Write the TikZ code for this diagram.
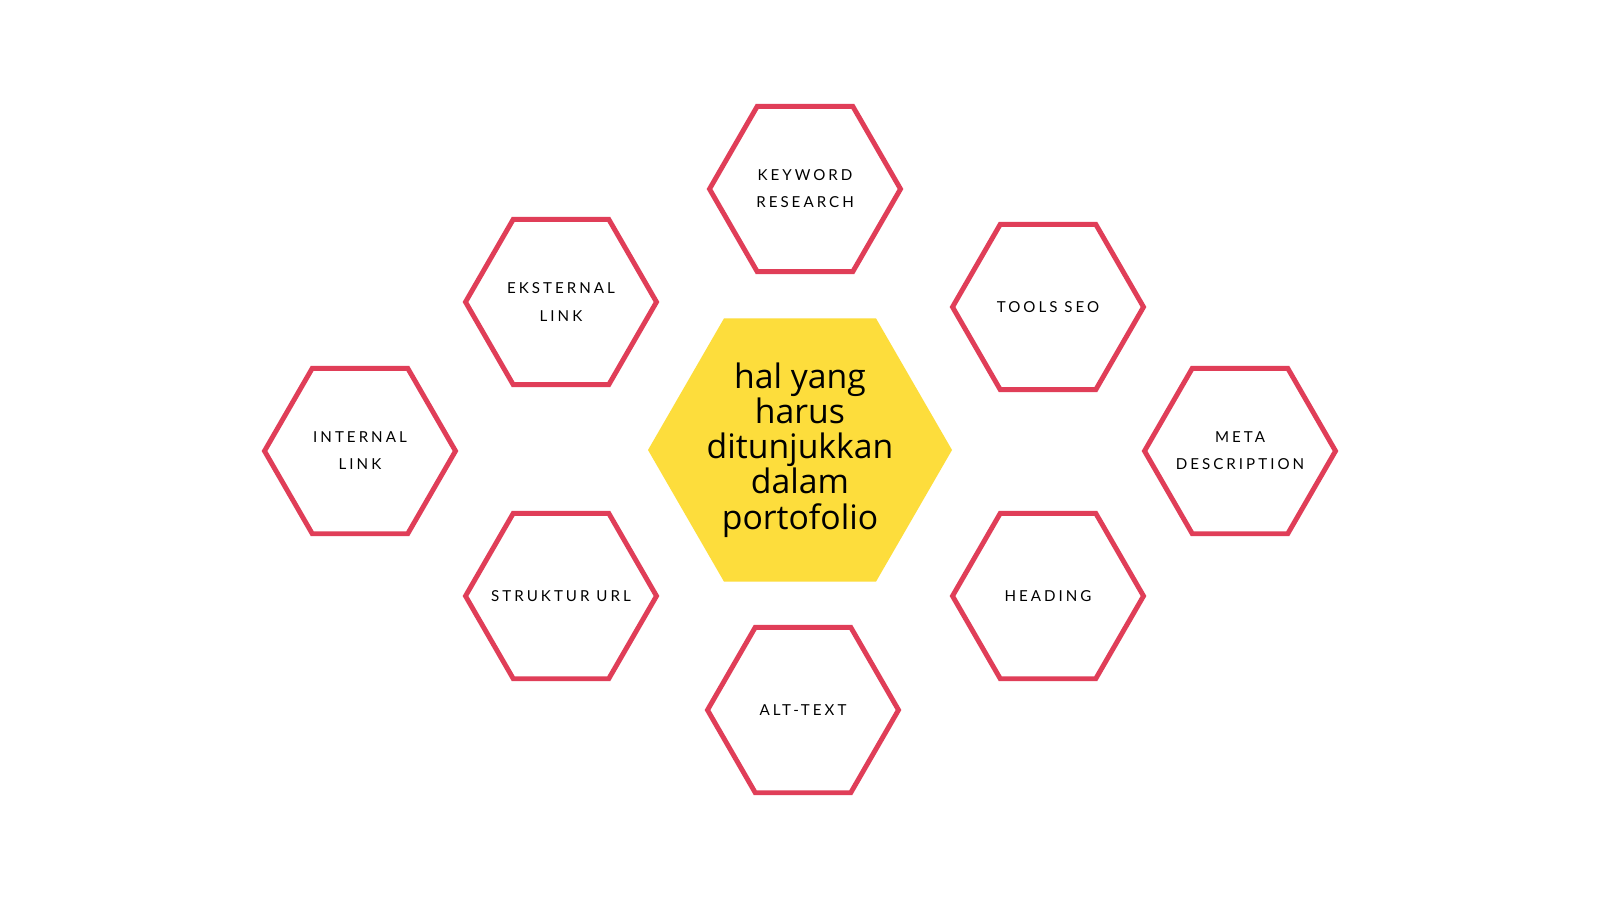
\documentclass[tikz,border=0pt]{standalone}
\usepackage{fontspec}
\setmainfont{Open Sans}
\newfontfamily\labelfont[LetterSpace=20]{Lato}
\usetikzlibrary{shapes.geometric}
\definecolor{seomerah}{RGB}{224, 62, 88}
\definecolor{seokuning}{RGB}{253, 221, 60}

\tikzset{
    topik/.style={regular polygon, regular polygon sides=6,
        minimum size=1.91cm, inner sep=-0.5cm, draw=seomerah, line width=1.4pt,
        align=center, font=\labelfont\fontsize{4.3}{7.7}\selectfont},
    pusat/.style={regular polygon, regular polygon sides=6,
        minimum size=3.04cm, inner sep=-0.8cm, fill=seokuning,
        align=center, font=\fontsize{9.6}{10}\selectfont}
}

\begin{document}
\begin{tikzpicture}
            \useasboundingbox (0,0) rectangle (16,9);
            \fill[white] (0,0) rectangle (16,9);

            % Center
            \node[pusat] (hal) at (8.00, 4.50) {hal yang\\harus\\ditunjukkan\\dalam\\portofolio};

            % Top and bottom
            \node[topik] (keyword) at (8.05, 7.11) {KEYWORD\\RESEARCH};
            \node[topik] (alttext) at (8.03, 1.90) {ALT-TEXT};

            % Left side
            \node[topik] (eksternal) at (5.61, 5.98) {EKSTERNAL\\LINK};
            \node[topik] (internal) at (3.60, 4.49) {INTERNAL\\LINK};
            \node[topik] (struktur) at (5.61, 3.04) {STRUKTUR URL};

            % Right side
            \node[topik] (tools) at (10.48, 5.93) {TOOLS SEO};
            \node[topik] (meta) at (12.40, 4.49) {META\\DESCRIPTION};
            \node[topik] (heading) at (10.48, 3.04) {HEADING};
        \end{tikzpicture}
\end{document}
